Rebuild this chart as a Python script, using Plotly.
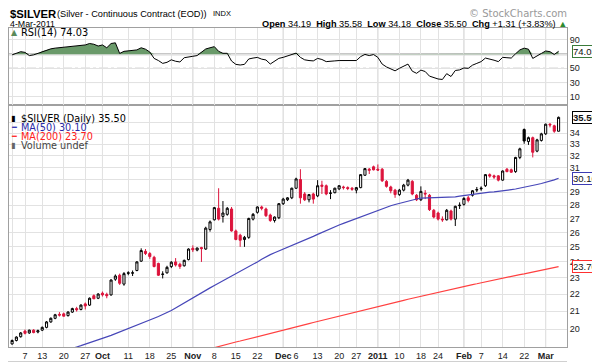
import numpy as np
import plotly.graph_objects as go

# ---------------- data ----------------
days_by_month = [
    ("2010-09", [1, 2, 3, 7, 8, 9, 10, 13, 14, 15, 16, 17, 20, 21, 22, 23, 24, 27, 28, 29, 30]),
    ("2010-10", [1, 4, 5, 6, 7, 8, 11, 12, 13, 14, 15, 18, 19, 20, 21, 22, 25, 26, 27, 28, 29]),
    ("2010-11", [1, 2, 3, 4, 5, 8, 9, 10, 11, 12, 15, 16, 17, 18, 19, 22, 23, 24, 26, 29, 30]),
    ("2010-12", [1, 2, 3, 6, 7, 8, 9, 10, 13, 14, 15, 16, 17, 20, 21, 22, 23, 27, 28, 29, 30, 31]),
    ("2011-01", [3, 4, 5, 6, 7, 10, 11, 12, 13, 14, 18, 19, 20, 21, 24, 25, 26, 27, 28, 31]),
    ("2011-02", [1, 2, 3, 4, 7, 8, 9, 10, 11, 14, 15, 16, 17, 18, 22, 23, 24, 25, 28]),
    ("2011-03", [1, 2, 3, 4]),
]
dates = [f"{m}-{d:02d}" for m, ds in days_by_month for d in ds]

open_ = [19.22, 19.40, 19.60, 19.90, 19.80, 19.95, 19.85, 19.95, 20.10, 20.40,
         20.60, 20.82, 20.85, 20.75, 20.95, 21.15, 21.10, 21.42, 21.35, 21.90,
         21.75, 22.05, 21.98, 21.95, 22.90, 23.15, 22.60, 23.30, 23.28, 23.45,
         24.05, 24.70, 24.55, 24.30, 23.90, 23.20, 23.30, 23.70, 24.00, 23.85,
         23.75, 24.15, 24.90, 24.78, 24.95, 24.85, 26.20, 26.90, 27.75, 27.15,
         27.30, 27.70, 26.10, 25.80, 25.50, 25.65, 26.95, 27.45, 27.85, 27.70,
         27.25, 26.85, 27.05, 28.10, 28.40, 28.55, 29.30, 30.00, 28.85, 28.40,
         28.85, 28.70, 29.55, 29.50, 28.90, 28.95, 29.25, 29.40, 29.35, 29.30,
         29.15, 29.35, 30.35, 30.75, 31.05, 30.85, 30.85, 29.85, 29.40, 29.15,
         28.80, 29.15, 29.55, 29.85, 28.75, 28.40, 28.90, 28.75, 27.60, 27.40,
         26.95, 26.90, 27.55, 26.95, 27.95, 28.05, 28.55, 28.75, 29.15, 29.25,
         29.50, 30.40, 30.30, 30.30, 29.95, 30.85, 30.80, 30.65, 31.85, 34.35,
         33.25, 33.60, 32.40, 33.35, 33.95, 34.85, 34.70, 34.19]
high = [19.45, 19.62, 19.85, 19.98, 19.98, 20.00, 19.98, 20.15, 20.45, 20.65,
        20.85, 20.95, 20.92, 21.00, 21.20, 21.25, 21.40, 21.50, 21.80, 21.98,
        22.05, 22.15, 22.08, 22.90, 23.20, 23.25, 23.35, 23.40, 23.45, 24.05,
        24.90, 24.85, 24.65, 24.40, 23.95, 23.40, 23.75, 24.05, 24.25, 23.95,
        24.15, 24.90, 25.10, 24.95, 25.00, 26.40, 26.85, 27.85, 29.30, 28.30,
        27.85, 27.85, 26.20, 25.90, 25.75, 27.05, 27.40, 27.90, 27.95, 27.80,
        27.35, 27.15, 28.15, 28.55, 28.60, 29.35, 30.15, 30.85, 29.00, 28.85,
        28.95, 29.95, 29.90, 29.60, 29.15, 29.35, 29.55, 29.50, 29.45, 29.40,
        29.40, 30.45, 30.95, 30.95, 31.15, 31.25, 30.95, 29.95, 29.50, 29.25,
        29.25, 29.65, 30.05, 29.95, 28.85, 29.45, 29.15, 28.85, 27.70, 27.50,
        27.15, 27.70, 27.65, 27.95, 28.20, 28.60, 28.70, 29.15, 29.40, 29.45,
        30.45, 30.50, 30.40, 30.35, 30.75, 30.95, 30.90, 31.90, 32.70, 34.45,
        33.70, 33.70, 33.50, 34.05, 34.90, 34.95, 34.80, 35.58]
low = [19.18, 19.35, 19.55, 19.72, 19.75, 19.78, 19.78, 19.90, 20.05, 20.35,
       20.55, 20.70, 20.70, 20.70, 20.90, 20.98, 21.05, 21.10, 21.30, 21.70,
       21.70, 21.85, 21.75, 21.90, 22.80, 22.55, 22.50, 23.15, 23.10, 23.40,
       24.00, 24.45, 24.20, 23.65, 23.10, 22.95, 23.25, 23.60, 23.70, 23.55,
       23.70, 24.10, 24.65, 24.70, 24.00, 24.80, 26.05, 26.85, 26.85, 26.70,
       27.20, 26.05, 25.45, 25.00, 25.00, 25.55, 26.85, 27.35, 27.60, 27.10,
       26.75, 26.70, 26.95, 28.00, 28.30, 28.45, 29.25, 28.10, 28.30, 28.20,
       28.10, 28.60, 28.85, 28.75, 28.45, 28.90, 29.15, 29.20, 29.15, 29.10,
       28.90, 29.30, 30.30, 30.45, 30.75, 30.70, 29.80, 29.35, 28.90, 28.55,
       28.70, 29.05, 29.45, 28.75, 28.30, 28.30, 28.45, 27.55, 27.00, 26.85,
       26.75, 26.85, 26.85, 26.45, 27.70, 27.95, 28.20, 28.65, 29.00, 29.10,
       29.40, 30.15, 30.05, 29.85, 29.90, 30.60, 30.55, 30.55, 31.70, 33.05,
       32.95, 31.85, 32.30, 33.25, 33.85, 34.55, 34.05, 34.18]
close = [19.40, 19.58, 19.80, 19.78, 19.95, 19.82, 19.92, 20.10, 20.40, 20.60,
         20.80, 20.78, 20.72, 20.95, 21.15, 21.08, 21.35, 21.30, 21.75, 21.72,
         22.00, 21.95, 21.90, 22.85, 23.10, 22.65, 23.25, 23.28, 23.30, 24.00,
         24.75, 24.55, 24.35, 23.70, 23.15, 23.22, 23.65, 23.98, 23.80, 23.70,
         24.10, 24.85, 24.80, 24.92, 24.88, 26.30, 26.75, 27.80, 26.95, 27.40,
         27.75, 26.10, 25.50, 25.45, 25.65, 27.00, 27.30, 27.85, 27.75, 27.20,
         26.85, 27.10, 28.10, 28.45, 28.55, 29.30, 30.05, 28.55, 28.40, 28.80,
         28.45, 29.50, 29.45, 28.85, 28.92, 29.30, 29.50, 29.35, 29.28, 29.22,
         29.35, 30.40, 30.90, 30.85, 30.80, 30.78, 29.90, 29.45, 29.10, 28.80,
         29.15, 29.55, 29.95, 28.85, 28.40, 29.05, 28.85, 27.65, 27.10, 26.95,
         26.90, 27.60, 26.95, 27.90, 27.98, 28.50, 28.35, 29.10, 29.20, 29.30,
         30.40, 30.28, 30.20, 29.95, 30.70, 30.65, 30.60, 31.85, 32.60, 33.30,
         33.60, 32.30, 33.40, 33.95, 34.85, 34.78, 34.19, 35.50]

ma50 = [18.15, 18.20, 18.25, 18.30, 18.36, 18.42, 18.48, 18.54, 18.60, 18.66,
        18.72, 18.78, 18.85, 18.92, 18.99, 19.06, 19.13, 19.20, 19.27, 19.35,
        19.43, 19.51, 19.59, 19.67, 19.76, 19.85, 19.93, 20.00, 20.10, 20.20,
        20.30, 20.40, 20.50, 20.60, 20.70, 20.80, 20.90, 21.04, 21.19, 21.34,
        21.49, 21.64, 21.78, 21.93, 22.08, 22.22, 22.37, 22.52, 22.66, 22.80,
        22.94, 23.10, 23.25, 23.40, 23.55, 23.70, 23.85, 24.00, 24.17, 24.35,
        24.48, 24.60, 24.72, 24.84, 24.96, 25.08, 25.20, 25.30, 25.44, 25.58,
        25.72, 25.86, 26.00, 26.14, 26.27, 26.40, 26.52, 26.64, 26.76, 26.88,
        27.00, 27.12, 27.24, 27.36, 27.48, 27.60, 27.72, 27.83, 27.94, 28.04,
        28.13, 28.22, 28.30, 28.38, 28.46, 28.52, 28.53, 28.53, 28.54, 28.55,
        28.56, 28.58, 28.60, 28.63, 28.68, 28.73, 28.78, 28.83, 28.88, 28.92,
        28.96, 28.99, 29.02, 29.05, 29.09, 29.14, 29.19, 29.24, 29.30, 29.37,
        29.44, 29.52, 29.60, 29.68, 29.76, 29.85, 29.97, 30.10]
ma200 = [16.30, 16.36, 16.42, 16.47, 16.53, 16.59, 16.65, 16.71, 16.76, 16.82,
         16.88, 16.94, 17.00, 17.05, 17.11, 17.17, 17.23, 17.29, 17.34, 17.40,
         17.46, 17.52, 17.58, 17.63, 17.69, 17.75, 17.81, 17.87, 17.92, 17.98,
         18.04, 18.10, 18.16, 18.21, 18.27, 18.33, 18.39, 18.45, 18.50, 18.56,
         18.62, 18.68, 18.74, 18.79, 18.85, 18.91, 18.97, 19.03, 19.08, 19.14,
         19.20, 19.26, 19.32, 19.37, 19.43, 19.49, 19.55, 19.61, 19.66, 19.72,
         19.78, 19.84, 19.90, 19.95, 20.01, 20.07, 20.13, 20.19, 20.25, 20.31,
         20.37, 20.43, 20.49, 20.55, 20.61, 20.67, 20.73, 20.79, 20.85, 20.91,
         20.97, 21.03, 21.09, 21.15, 21.21, 21.27, 21.33, 21.39, 21.45, 21.51,
         21.57, 21.63, 21.69, 21.75, 21.81, 21.87, 21.93, 21.99, 22.04, 22.10,
         22.16, 22.22, 22.28, 22.33, 22.39, 22.45, 22.51, 22.57, 22.62, 22.68,
         22.74, 22.80, 22.85, 22.91, 22.96, 23.02, 23.08, 23.13, 23.19, 23.24,
         23.30, 23.36, 23.41, 23.47, 23.52, 23.58, 23.64, 23.70]
rsi = [69.0, 71.0, 73.5, 72.5, 68.0, 69.0, 71.0, 74.0, 76.0, 77.5,
       78.5, 79.0, 79.5, 80.0, 81.0, 81.5, 82.0, 83.0, 85.0, 84.0,
       81.5, 83.0, 79.0, 85.0, 86.0, 71.0, 74.0, 75.0, 75.5, 76.0,
       79.0, 77.0, 73.0, 64.0, 61.0, 57.0, 58.5, 62.0, 60.0, 59.0,
       65.0, 66.5, 67.0, 68.0, 73.0, 77.3, 79.0, 80.6, 74.0, 71.2,
       71.2, 60.3, 55.6, 54.7, 55.6, 63.2, 64.5, 65.4, 63.0, 61.8,
       56.1, 60.0, 64.1, 65.5, 67.5, 69.0, 71.5, 65.5, 62.0, 61.0,
       60.5, 64.0, 62.5, 59.5, 59.5, 60.5, 61.0, 61.0, 60.8, 60.5,
       61.0, 66.5, 69.7, 68.0, 69.5, 65.5, 56.0, 52.0, 49.0, 46.5,
       50.0, 53.0, 56.0, 46.0, 43.0, 47.5, 45.5, 39.0, 37.0, 35.0,
       34.3, 42.5, 38.5, 47.0, 47.8, 50.5, 50.0, 54.5, 57.0, 59.5,
       64.5, 63.5, 61.5, 59.5, 65.5, 65.0, 64.5, 70.5, 76.0, 78.5,
       77.0, 64.0, 68.0, 71.0, 74.5, 73.5, 69.5, 74.03]

tick_dates = ["2010-09-01", "2010-09-07", "2010-09-13", "2010-09-20", "2010-09-27",
              "2010-10-01", "2010-10-11", "2010-10-18", "2010-10-25",
              "2010-11-01", "2010-11-08", "2010-11-15", "2010-11-22",
              "2010-12-01", "2010-12-06", "2010-12-13", "2010-12-20", "2010-12-27",
              "2011-01-03", "2011-01-10", "2011-01-18", "2011-01-24",
              "2011-02-01", "2011-02-07", "2011-02-14", "2011-02-22", "2011-03-01"]
tick_labels = ["<b>Sep</b>", "7", "13", "20", "27", "<b>Oct</b>", "11", "18", "25",
               "<b>Nov</b>", "8", "15", "22", "<b>Dec</b>", "6", "13", "20", "27",
               "<b>2011</b>", "10", "18", "24", "<b>Feb</b>", "7", "14", "22", "<b>Mar</b>"]
month_dates = ["2010-10-01", "2010-11-01", "2010-12-01", "2011-01-03", "2011-02-01", "2011-03-01"]
price_ticks = [20, 21, 22, 23, 24, 25, 26, 27, 28, 29, 30, 31, 32, 33, 34, 35]
rsi_ticks = [10, 30, 50, 70, 90]

last_close, last_ma50, last_ma200, last_rsi = 35.50, 30.10, 23.70, 74.03

# ---------------- figure ----------------
# the page body keeps an 8px margin, so the figure sits 8px in from the window corner
OFF = 8
W, H = 600 - OFF, 363 - OFF
L, R, T, B = 9, 567, 28, 347          # plot box in window pixels
SPLIT = 105
n = len(dates)
xs = list(range(n))
tickpos = [dates.index(d) for d in tick_dates]
monthpos = [dates.index(d) for d in month_dates]
# first label sits at the very left edge: pad it so it stays inside the page
shown_labels = ["\u00a0" * 4 + tick_labels[0]] + tick_labels[1:]
# labels that sit fully under the last-value boxes are left blank (as in the original)
hidden_price = {35, 30}
hidden_rsi = {70}
price_text = ["" if t in hidden_price else str(t) for t in price_ticks]
rsi_text = ["" if t in hidden_rsi else str(t) for t in rsi_ticks]


def px(v):
    return (v - L) / (R - L)


def py(v):
    return (B - v) / (B - T)


RED = "#dc143c"
fig = go.Figure()

up_idx = [i for i in range(n) if i == 0 or close[i] >= close[i - 1]]
dn_idx = [i for i in range(n) if i > 0 and close[i] < close[i - 1]]


def candles(idx, color):
    return go.Candlestick(
        x=[xs[i] for i in idx], open=[open_[i] for i in idx], high=[high[i] for i in idx],
        low=[low[i] for i in idx], close=[close[i] for i in idx],
        increasing=dict(line=dict(color=color, width=1), fillcolor="white"),
        decreasing=dict(line=dict(color=color, width=1), fillcolor=color),
        whiskerwidth=0, showlegend=False, hoverinfo="skip", xaxis="x", yaxis="y")


fig.add_trace(go.Scatter(x=xs, y=ma200, mode="lines", line=dict(color="#ff4040", width=1.2),
                         showlegend=False, hoverinfo="skip", xaxis="x", yaxis="y"))
fig.add_trace(go.Scatter(x=xs, y=ma50, mode="lines", line=dict(color="#4646b8", width=1.2),
                         showlegend=False, hoverinfo="skip", xaxis="x", yaxis="y"))
fig.add_trace(candles(up_idx, "#000000"))
fig.add_trace(candles(dn_idx, RED))

# RSI
fig.add_trace(go.Scatter(x=xs, y=[70] * n, mode="lines", line=dict(width=0),
                         showlegend=False, hoverinfo="skip", xaxis="x2", yaxis="y2"))
fig.add_trace(go.Scatter(x=xs, y=list(np.maximum(np.array(rsi), 70)), mode="lines",
                         line=dict(width=0), fill="tonexty", fillcolor="#6a9a6a",
                         showlegend=False, hoverinfo="skip", xaxis="x2", yaxis="y2"))
fig.add_trace(go.Scatter(x=xs, y=rsi, mode="lines", line=dict(color="#000000", width=1),
                         showlegend=False, hoverinfo="skip", xaxis="x2", yaxis="y2"))

FONT_A = "Liberation Sans, Arial, sans-serif"
FONT_V = "DejaVu Sans, Verdana, sans-serif"
GRID = "#e2e2e2"
BORDER = "#a0a0a0"
xrange_ = [(L - 12.1) / 4.303, (R - 12.1) / 4.303]

common_x = dict(range=xrange_, tickmode="array", tickvals=tickpos, showgrid=True,
                gridcolor=GRID, gridwidth=1, zeroline=False, showline=True,
                linecolor=BORDER, mirror=True, ticks="", ticklen=0, fixedrange=True,
                automargin=False)
common_y = dict(side="right", tickmode="array", showgrid=True, gridcolor=GRID,
                zeroline=False, showline=True, linecolor=BORDER, mirror=True,
                ticks="", ticklen=0, fixedrange=True, automargin=False,
                tickfont=dict(family=FONT_A, size=9, color="#222"))

fig.update_layout(
    width=W, height=H, autosize=False,
    margin=dict(l=L - OFF, r=W - (R - OFF), t=T - OFF, b=H - (B - OFF), pad=0, autoexpand=False),
    paper_bgcolor="white", plot_bgcolor="white",
    showlegend=False,
    xaxis=dict(common_x, anchor="y", domain=[0, 1], ticktext=shown_labels,
               tickfont=dict(family=FONT_A, size=9, color="#222"),
               rangeslider=dict(visible=False)),
    xaxis2=dict(common_x, anchor="y2", domain=[0, 1], matches="x", showticklabels=False),
    yaxis=dict(common_y, domain=[0, py(SPLIT)], type="log",
               range=[np.log10(19.06), np.log10(36.71)], anchor="x",
               tickvals=price_ticks, ticktext=price_text),
    yaxis2=dict(common_y, domain=[py(SPLIT), 1], range=[-1.7, 106.9], anchor="x2",
                tickvals=rsi_ticks, ticktext=rsi_text),
)

shapes = []
for m in monthpos:
    shapes.append(dict(type="line", xref="x", yref="paper", x0=m, x1=m, y0=0, y1=1,
                       line=dict(color="#c8c8c8", width=1), layer="below"))
shapes.append(dict(type="line", xref="paper", yref="y2", x0=0, x1=1, y0=70, y1=70,
                   line=dict(color="#b4b4b4", width=2), layer="below"))
shapes.append(dict(type="line", xref="paper", yref="y2", x0=0, x1=1, y0=50, y1=50,
                   line=dict(color="#8a8a8a", width=1, dash="dashdot"), layer="below"))
shapes.append(dict(type="line", xref="paper", yref="y2", x0=0, x1=1, y0=30, y1=30,
                   line=dict(color="#707070", width=1), layer="below"))
shapes.append(dict(type="line", xref="paper", yref="paper", x0=px(OFF), x1=1, y0=py(361.5),
                   y1=py(361.5), line=dict(color="#d0d0d0", width=1)))
fig.update_layout(shapes=shapes)

ann = []


def text(x, y, s, size, color="#000", family=FONT_A, xanchor="left"):
    ann.append(dict(xref="paper", yref="paper", x=px(x), y=py(y), text=s, showarrow=False,
                    xanchor=xanchor, yanchor="middle", borderpad=0,
                    font=dict(family=family, size=size, color=color)))


# header
text(8.5, 13.5, "<b>$SILVER</b>", 11.3)
text(56, 13.5, "(Silver - Continuous Contract (EOD))", 9.2)
text(212, 13.5, "INDX", 7.5)
text(8.5, 24, "4-Mar-2011", 8.8)
text(568, 13, "© StockCharts.com", 10, color="#999", family=FONT_V, xanchor="right")
text(568, 24, "<b>Open</b> 34.19  <b>High</b> 35.58  <b>Low</b> 34.18  <b>Close</b> 35.50  "
     "<b>Chg</b> +1.31 (+3.83%) <span style='color:#2e8b2e'>▲</span>", 9.2, xanchor="right")

# RSI label
text(10, 33, "<span style='color:#5a8a5a'>▲</span>", 8, family=FONT_V)
text(20, 33, "RSI(14) 74.03", 9.8, family=FONT_V)

# main legend
text(10, 118, "▮", 8, family=FONT_V)
text(20, 118, "$SILVER (Daily) 35.50", 9.7, family=FONT_V)
text(10, 127.5, "<span style='color:#3c3cb4'>━</span>", 8, family=FONT_V)
text(20, 127.5, "<span style='color:#2a2aa8'>MA(50) 30.10</span>", 9.7, family=FONT_V)
text(10, 136.5, "<span style='color:#ff3030'>━</span>", 8, family=FONT_V)
text(20, 136.5, "<span style='color:#ff2020'>MA(200) 23.70</span>", 9.7, family=FONT_V)
text(10, 145.5, "<span style='color:#666'>▮</span>", 8, family=FONT_V)
text(20, 145.5, "<span style='color:#444'>Volume undef</span>", 9.7, family=FONT_V)


def value_box(yref, y, s, border, bold=False):
    ann.append(dict(xref="paper", yref=yref, x=px(598), y=y, xanchor="right", yanchor="middle",
                    text=("<b>%s</b>" % s) if bold else s, showarrow=False,
                    bgcolor="white", bordercolor=border, borderwidth=1, borderpad=0,
                    font=dict(family=FONT_A, size=9.5, color="#111")))


value_box("y", np.log10(last_close), f"{last_close:.2f}", "#000000", bold=True)
value_box("y", np.log10(last_ma50), f"{last_ma50:.2f}", "#3c3cb4")
value_box("y", np.log10(last_ma200), f"{last_ma200:.2f}", "#ff3030")
value_box("y2", last_rsi, f"{last_rsi:.2f}", "#3a7a3a")

fig.update_layout(annotations=ann)
fig.write_html("out.html")
